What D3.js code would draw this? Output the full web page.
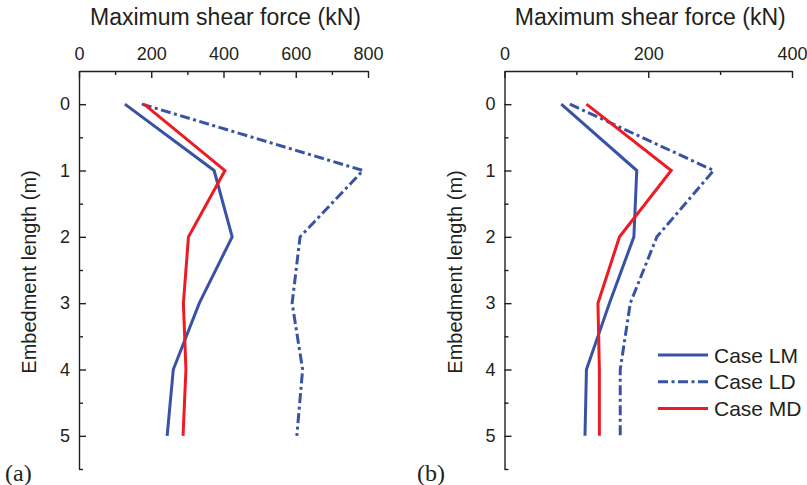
<!DOCTYPE html>
<html>
<head>
<meta charset="utf-8">
<script src="https://cdn.jsdelivr.net/npm/d3@7"></script>
<style>
  html, body { margin: 0; padding: 0; background: #fff; }
  svg { display: block; }
  text { font-family: "Liberation Sans", Arial, sans-serif; fill: #231f20; }
</style>
</head>
<body>
<svg id="chart" width="807" height="485"></svg>
<script>
// Embedment length (m) at which maximum shear force is reported
const depth = [0, 1, 2, 3, 4, 5];

// Panel (a): maximum shear force (kN)
const caseLM_a = [127, 374, 424, 333, 261, 244];
const caseLD_a = [174, 786, 612, 590, 619, 603];
const caseMD_a = [180, 404, 303, 289, 296, 288];

// Panel (b): maximum shear force (kN)
const caseLM_b = [79, 184, 180, 146, 114, 112];
const caseLD_b = [91, 291, 212, 175, 161, 161];
const caseMD_b = [114, 232, 160, 130, 132, 132];

const seriesNames = ["Case LM", "Case LD", "Case MD"];
const ticksA = [0, 200, 400, 600, 800];
const minorA = [100, 300, 500, 700];
const ticksB = [0, 200, 400];
const minorB = [100, 300];
const depthTicks = [0, 1, 2, 3, 4, 5];
const depthMinor = [0.5, 1.5, 2.5, 3.5, 4.5, 5.5];

const BLUE = "#3953a4", RED = "#ed1c24", INK = "#231f20";
const styles = [
  { color: BLUE, dash: null },
  { color: BLUE, dash: "10,3.5,3,3.5" },
  { color: RED, dash: null }
];

const svg = d3.select("#chart");
const y = d3.scaleLinear().domain([-0.5, 5.5]).range([71, 469]);
const fmt = d3.format("d");

function panel(opts) {
  const x = d3.scaleLinear().domain(opts.domain).range(opts.range);
  const g = svg.append("g");

  // top axis: major ticks with labels, minor ticks without
  g.append("g").attr("transform", `translate(0,${y.range()[0]})`)
    .call(d3.axisTop(x).tickValues(opts.ticks).tickFormat(fmt)
      .tickSizeInner(-7).tickSizeOuter(0).tickPadding(11));
  g.append("g").attr("transform", `translate(0,${y.range()[0]})`)
    .call(d3.axisTop(x).tickValues(opts.minor).tickSizeInner(-4).tickSizeOuter(0).tickFormat(""))
    .select(".domain").remove();

  // left axis: depth
  g.append("g").attr("transform", `translate(${x.range()[0]},0)`)
    .call(d3.axisLeft(y).tickValues(depthTicks).tickFormat(fmt)
      .tickSizeInner(-7).tickSizeOuter(0).tickPadding(9));
  g.append("g").attr("transform", `translate(${x.range()[0]},0)`)
    .call(d3.axisLeft(y).tickValues(depthMinor).tickSizeInner(-4).tickSizeOuter(0).tickFormat(""))
    .select(".domain").remove();

  g.selectAll(".domain").attr("stroke", INK).attr("stroke-width", 1.4);
  g.selectAll(".tick line").attr("stroke", INK).attr("stroke-width", 1.4);
  g.selectAll(".tick text").attr("font-size", 18).attr("fill", INK);

  // axis titles
  g.append("text")
    .attr("x", (opts.range[0] + opts.range[1]) / 2 + 2)
    .attr("y", 25)
    .attr("text-anchor", "middle")
    .attr("font-size", 23)
    .text("Maximum shear force (kN)");

  g.append("text")
    .attr("transform", `translate(${opts.range[0] - 43},${272}) rotate(-90)`)
    .attr("text-anchor", "middle")
    .attr("font-size", 20)
    .text("Embedment length (m)");

  // panel tag in serif type
  g.append("text")
    .attr("x", opts.tagX)
    .attr("y", 481)
    .style("font-family", "'Liberation Serif', 'Times New Roman', serif")
    .attr("font-size", 24)
    .text(opts.tag);

  const line = d3.line().x(d => x(d[1])).y(d => y(d[0]));
  opts.series.forEach((vals, i) => {
    g.append("path")
      .datum(depth.map((dv, k) => [dv, vals[k]]))
      .attr("d", line)
      .attr("fill", "none")
      .attr("stroke", styles[i].color)
      .attr("stroke-width", 3)
      .attr("stroke-linejoin", "miter")
      .attr("stroke-dasharray", styles[i].dash);
  });
  return x;
}

panel({ domain: [0, 800], range: [79, 368], ticks: ticksA, minor: minorA,
        series: [caseLM_a, caseLD_a, caseMD_a], tag: "(a)", tagX: 5 });
panel({ domain: [0, 400], range: [504.5, 792], ticks: ticksB, minor: minorB,
        series: [caseLM_b, caseLD_b, caseMD_b], tag: "(b)", tagX: 417 });

// legend
const legend = svg.append("g").attr("transform", "translate(658,355)");
seriesNames.forEach((name, i) => {
  const row = legend.append("g").attr("transform", `translate(0,${i * 26.7})`);
  row.append("line")
    .attr("x1", 0).attr("x2", 50).attr("y1", 0).attr("y2", 0)
    .attr("stroke", styles[i].color)
    .attr("stroke-width", 3)
    .attr("stroke-dasharray", styles[i].dash);
  row.append("text")
    .attr("x", 56).attr("y", 7.5)
    .attr("font-size", 21)
    .text(name);
});
</script>
</body>
</html>
